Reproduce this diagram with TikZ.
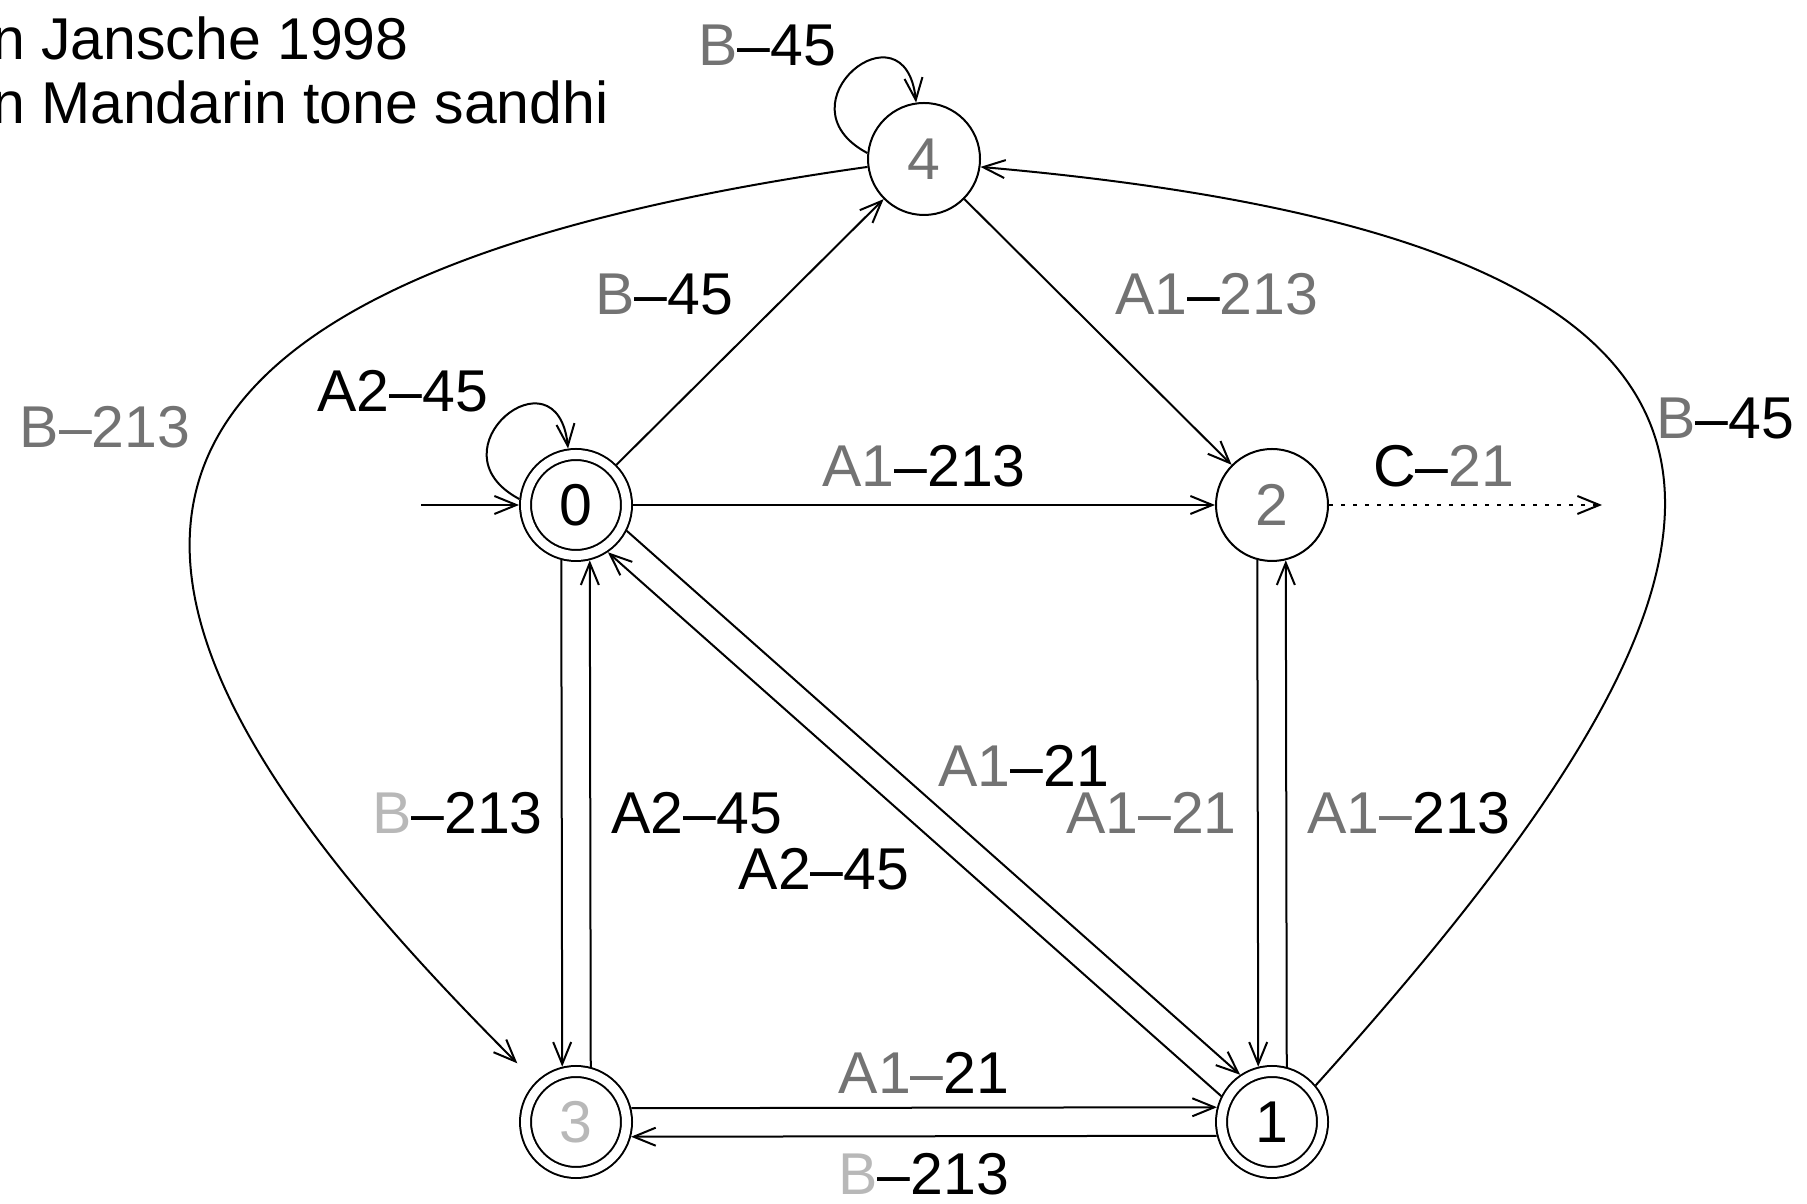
\documentclass[tikz,border=0pt]{standalone}
\usepackage{fontspec}
\setmainfont{Liberation Sans}
\usetikzlibrary{arrows.meta}
\definecolor{labgray}{gray}{0.45}
\definecolor{labpale}{gray}{0.72}
\newcommand{\gry}[1]{\textcolor{labgray}{#1}}
\newcommand{\pal}[1]{\textcolor{labpale}{#1}}

\begin{document}
\begin{tikzpicture}[x=0.5pt, y=0.5pt, line width=1pt,
    -{Straight Barb[length=11pt,width=9pt]},
    every node/.append style={font=\fontsize{29.5}{35}\selectfont, inner sep=0pt}]
  \tikzstyle{stnode} = [circle, draw, minimum size=56pt, outer sep=0.5pt]
  \tikzstyle{accnode} = [circle, draw, double, double distance=4.5pt, minimum size=50.5pt, outer sep=3.25pt]
  \useasboundingbox (0,0) rectangle (1807,1203);

  \node[anchor=base west] (ttl1) at (-9,1143) {n Jansche 1998};
  \node[anchor=base west] (ttl2) at (-9,1079) {n Mandarin tone sandhi};

  \node (q0) [accnode] at (576,698) {0};
  \node (q1) [accnode] at (1272,81) {1};
  \node (q2) [stnode] at (1272,698) {\gry{2}};
  \node (q3) [accnode] at (576,81) {\pal{3}};
  \node (q4) [stnode] at (924,1044) {\gry{4}};
  \coordinate (in) at (421,698);
  \coordinate (out) at (1602,698);

  \draw (in) -- (q0);
  \draw (q0.174) to[out=152, in=96, distance=52pt] node[pos=.45, above left=5pt] (l00) {A2–45} (q0.98);
  \draw (q4.174) to[out=152, in=96, distance=52pt] node[pos=.45, above left=5pt] (l44) {\gry{B}–45} (q4.98);
  \draw (q0) -- node[above left=8pt] (l04) {\gry{B}–45} (q4);
  \draw (q0) -- node[above=8.5pt] (l02) {\gry{A1}–213} (q2);
  \draw (q4) -- node[above right=8pt] (l42) {\gry{A1}–\gry{213}} (q2);
  \draw[dash pattern=on 2pt off 4pt] (q2) -- node[pos=.42, above=8.5pt] (l2x) {C–\gry{21}} (out);
  \draw[shorten >=13pt] (q4.188) to[out=188, in=135, out distance=475pt, in distance=292pt]
    node[pos=.4, left=17pt] (l43) {\gry{B–213}} (q3.135);
  \draw (q1.40) to[out=48, in=-5, out distance=345pt, in distance=455pt]
    node[pos=.55, right=4pt] (l14) {\gry{B}–45} (q4.352);

  \draw (q0.255.5) -- node[left=9pt] (l03) {\pal{B}–213} (q3.104.5);
  \draw (q3.75.5) -- node[right=10pt] (l30) {A2–45} (q0.284.5);
  \draw (q2.255.5) -- node[left=10pt] (l21) {\gry{A1–21}} (q1.104.5);
  \draw (q1.75.5) -- node[right=10pt] (l12) {\gry{A1–}213} (q2.284.5);
  \draw (q3.14.5) -- node[above=6.5pt] (l31) {\gry{A1–}21} (q1.165.5);
  \draw (q1.194.5) -- node[below=8pt] (l13) {\pal{B}–213} (q3.345.5);
  \draw (q0.-27) -- node[pos=.49, above right=5pt] (l01) {\gry{A1}–21} (q1.124);
  \draw (q1.153) -- node[pos=.484, below left=7pt] (l10) {A2–45} (q0.-56);
\end{tikzpicture}
\end{document}
